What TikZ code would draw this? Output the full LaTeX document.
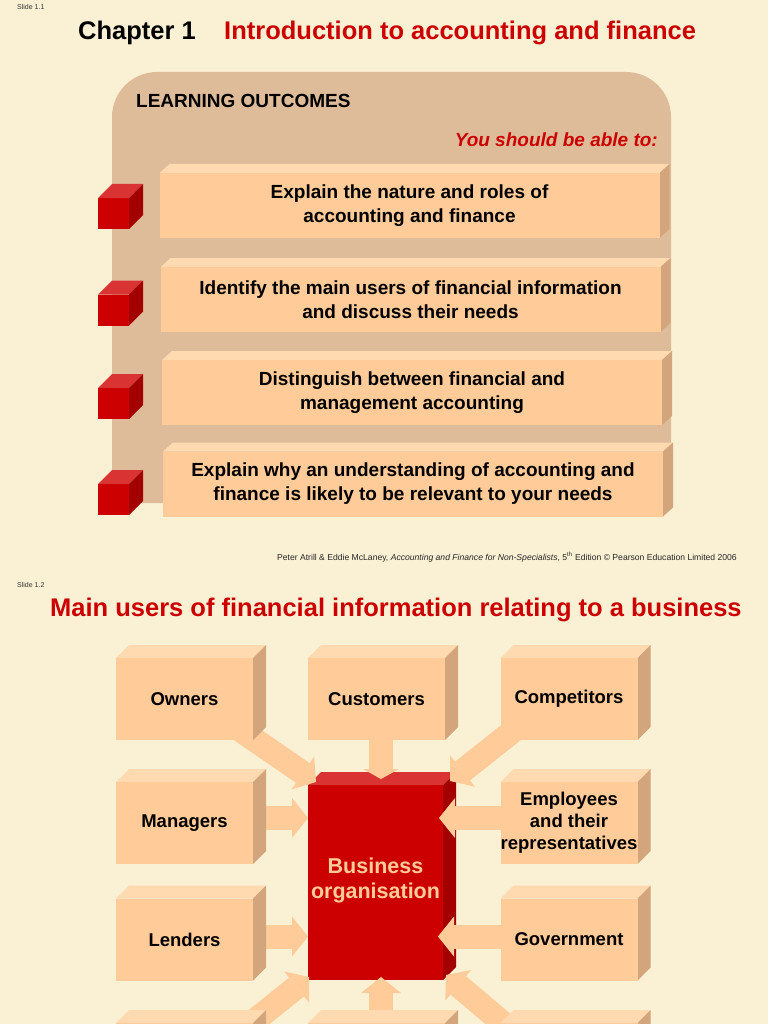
\documentclass[tikz,border=0pt]{standalone}
\usepackage{fontspec}
\setmainfont{Liberation Sans}
\usetikzlibrary{arrows.meta}
\definecolor{SlideBg}{HTML}{FAF0D4}
\definecolor{PanelTan}{HTML}{DEBC9A}
\definecolor{PeachFront}{HTML}{FFCC99}
\definecolor{PeachTop}{HTML}{FFD9B0}
\definecolor{PeachSide}{HTML}{D2A57D}
\definecolor{BizRed}{HTML}{CC0000}
\definecolor{BizTop}{HTML}{D93333}
\definecolor{BizSide}{HTML}{A30000}
\definecolor{TitleRed}{HTML}{CC0000}
\pgfdeclarelayer{front}
\pgfsetlayers{main,front}
\tikzset{
  faces/.style n args={4}{% depth x, depth y, top colour, side colour
    append after command={\pgfextra{
      \fill[#3] (\tikzlastnode.north west) -- ++(#1,-#2)
        -- ([shift={(#1,-#2)}]\tikzlastnode.north east) -- (\tikzlastnode.north east) -- cycle;
      \fill[#4] (\tikzlastnode.north east) -- ([shift={(#1,-#2)}]\tikzlastnode.north east)
        -- ([shift={(#1,-#2)}]\tikzlastnode.south east) -- (\tikzlastnode.south east) -- cycle;}}},
  slab/.style={fill=PeachFront,inner sep=0pt,outer sep=0pt,align=center,text=black},
  goal/.style={slab,minimum width=500pt,minimum height=65pt,
               font=\fontsize{19}{24}\selectfont\bfseries,faces={10}{9}{PeachTop}{PeachSide}},
  cube/.style={fill=BizRed,inner sep=0pt,outer sep=0pt,minimum size=31pt,
               faces={14}{14}{BizTop}{BizSide}},
  user/.style={slab,minimum width=137pt,minimum height=82pt,
               font=\fontsize{18.5}{22}\selectfont\bfseries,faces={13}{13}{PeachTop}{PeachSide}},
  biz/.style={fill=BizRed,inner sep=0pt,outer sep=0pt,minimum width=135pt,minimum height=195pt,
              align=center,text=PeachFront,font=\fontsize{21.5}{25}\selectfont\bfseries,
              faces={13}{13}{BizTop}{BizSide}},
  feed/.style={draw=PeachFront,line width=24pt,
               -{Triangle[length=16pt,width=40pt,line width=0pt]}},
  feedshort/.style={feed,-{Triangle[length=10pt,width=36pt,line width=0pt]}},
  tiny/.style={font=\fontsize{7}{8}\selectfont,text=black!80,inner sep=0pt},
  heading/.style={font=\fontsize{25.5}{30}\selectfont\bfseries,inner sep=0pt},
}

\begin{document}
\begin{tikzpicture}[x=1pt,y=-1pt]
  \fill[SlideBg] (0,0) rectangle (768,1024);
  \useasboundingbox (0,0) rectangle (768,1024);

  % slide 1.1
  \node[tiny,anchor=base west] (slideA) at (17,10) {Slide 1.1};
  \node[heading,anchor=base west] (chapter) at (78,40) {Chapter 1};
  \node[heading,anchor=base west,text=TitleRed] (chaptitle) at (224,40) {Introduction to accounting and finance};
  \fill[PanelTan] (112,503) [rounded corners=45pt] -- (112,72) -- (671,72) [sharp corners] -- (671,503) -- cycle;
  \node[anchor=base west,inner sep=0pt,font=\fontsize{19}{22}\selectfont\bfseries] (outcomes) at (136,108) {LEARNING OUTCOMES};
  \node[anchor=base east,inner sep=0pt,text=TitleRed,font=\fontsize{19}{22}\selectfont\bfseries\itshape] (ableto) at (658,147) {You should be able to:};

  \node[goal] (goal1) at (409.5,205.5) {Explain the nature and roles of\\accounting and finance};
  \node[goal] (goal2) at (410.5,299.5) {Identify the main users of financial information\\and discuss their needs};
  \node[goal] (goal3) at (412,392.5) {Distinguish between financial and\\management accounting};
  \node[goal] (goal4) at (413,484) {Explain why an understanding of accounting and\\finance is likely to be relevant to your needs};
  \node[cube] (cube1) at (113.5,213.5) {};
  \node[cube] (cube2) at (113.5,310) {};
  \node[cube] (cube3) at (113.5,403.5) {};
  \node[cube] (cube4) at (113.5,499.5) {};

  \node[anchor=base east,inner sep=0pt,font=\fontsize{8.6}{10}\selectfont,text=black!85] (credit) at (737,560)
    {Peter Atrill \& Eddie McLaney, \textit{Accounting and Finance for Non-Specialists}, 5\textsuperscript{th} Edition © Pearson Education Limited 2006};

  % slide 1.2
  \node[tiny,anchor=base west] (slideB) at (17,587) {Slide 1.2};
  \node[heading,anchor=base west,text=TitleRed] (usertitle) at (50,616) {Main users of financial information relating to a business};

  \node[biz] (biz) at (375.5,882.5) {Business\\organisation\\[-17pt]};

  \begin{pgfonlayer}{front}
  \node[user] (own) at (184.5,699) {Owners};
  \node[user] (cust) at (376.5,699) {Customers};
  \node[user] (comp) at (569,699) {Competitors};
  \node[user] (mgr) at (184.5,823) {Managers};
  \node[user] (emp) at (569,823) {Employees\\and their\\representatives};
  \node[user] (lend) at (184.5,939.5) {Lenders};
  \node[user] (gov) at (569,939.5) {Government};
  \node[user] (lowleft) at (184.5,1064) {};
  \node[user] (lowmid) at (376.5,1064) {};
  \node[user] (lowright) at (569,1064) {};
  \end{pgfonlayer}

  \draw[feed] ([shift={(-20,-15)}]own.south east) -- ([shift={(8,-3)}]biz.north west);
  \draw[feedshort] ([shift={(4.5,-10)}]cust.south) -- ([shift={(5.5,-6)}]biz.north);
  \draw[feed] ([shift={(20,-15)}]comp.south west) -- ([shift={(7,-4)}]biz.north east);
  \draw[feed] ([shift={(-10,-5)}]mgr.east) -- ([yshift=5pt]mgr.east -| biz.west);
  \draw[feed] ([shift={(10,-5)}]emp.west) -- ([shift={(-4,-5)}]emp.west -| biz.east);
  \draw[feed] ([shift={(-10,-3)}]lend.east) -- ([yshift=3pt]lend.east -| biz.west);
  \draw[feed] ([shift={(10,-3)}]gov.west) -- ([shift={(-5,-3)}]gov.west -| biz.east);
  \draw[feed] ([shift={(-20,15)}]lowleft.north east) -- ([shift={(1,-3)}]biz.south west);
  \draw[feed] ([shift={(4.5,10)}]lowmid.north) -- ([shift={(5.5,-3)}]biz.south);
  \draw[feed] ([shift={(20,15)}]lowright.north west) -- ([shift={(3,-5)}]biz.south east);
\end{tikzpicture}
\end{document}
